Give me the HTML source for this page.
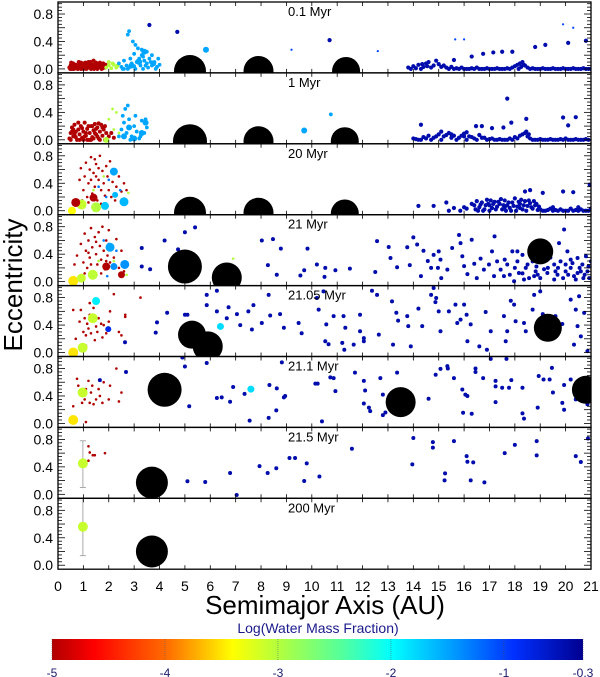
<!DOCTYPE html>
<html><head><meta charset="utf-8"><style>
html,body{margin:0;padding:0;background:#fff;}
svg{display:block;font-family:"Liberation Sans",sans-serif;}
</style></head><body>
<svg id="chart" width="600" height="677" viewBox="0 0 600 677" xmlns="http://www.w3.org/2000/svg">
<defs>
<linearGradient id="jet" x1="0" x2="1" y1="0" y2="0">
<stop offset="0" stop-color="#b00000"/><stop offset="0.08" stop-color="#ff0000"/>
<stop offset="0.22" stop-color="#ff7000"/><stop offset="0.34" stop-color="#ffff00"/>
<stop offset="0.43" stop-color="#b0ff40"/><stop offset="0.55" stop-color="#50ffa0"/>
<stop offset="0.64" stop-color="#00ffff"/><stop offset="0.75" stop-color="#00a0ff"/>
<stop offset="0.87" stop-color="#0030ff"/><stop offset="1" stop-color="#000090"/>
</linearGradient>
</defs>
<g id="panels"></g>
<text x="22" y="285" font-size="26" text-anchor="middle" transform="rotate(-90 22 285)">Eccentricity</text>
<g id="xticks"></g>
<text x="325" y="614" font-size="26" text-anchor="middle">Semimajor Axis (AU)</text>
<text x="318" y="633" font-size="14" fill="#1a1a8c" text-anchor="middle">Log(Water Mass Fraction)</text>
<rect x="52" y="639" width="531" height="21" fill="url(#jet)"/>
<g id="cbticks"></g>
</svg>
<script>
const xTicks=[0,1,2,3,4,5,6,7,8,9,10,11,12,13,14,15,16,17,18,19,20,21];
const yTickLabels=["0.0","0.4","0.8"];
const yTickVals=[0,0.4,0.8];
const cbTickVals=[-5,-4,-3,-2,-1,-0.3];
const cbTickLabels=["-5","-4","-3","-2","-1","-0.3"];
const panelTitles=["0.1 Myr","1 Myr","20 Myr","21 Myr","21.05 Myr","21.1 Myr","21.5 Myr","200 Myr"];

// giants: [a, e, radius]
const giants1=[[5.2,-0.03,16],[7.9,-0.03,15],[11.35,-0.03,14]];
const giants2=[[5.2,-0.02,17],[7.9,-0.02,15],[11.3,-0.02,14]];
const giants3=[[5.2,-0.03,16],[7.9,-0.03,15],[11.3,-0.04,14]];
const giants4=[[5.0,0.22,17],[6.65,0.06,15],[19.0,0.44,13]];
const giants5=[[5.28,0.26,14],[5.9,0.09,15],[19.3,0.36,14]];
const giants6=[[4.2,0.49,17],[13.5,0.31,15],[20.8,0.49,14]];
const giants7=[[3.7,0.17,16]];
const giants8=[[3.7,0.2,16]];
const giants=[giants1,giants2,giants3,giants4,giants5,giants6,giants7,giants8];

// point groups: [a, e]
const p1Red=[[0.45,.02],[0.5,.05],[0.55,.0],[0.6,.03],[0.65,.06],[0.7,.01],[0.75,.04],[0.8,.02],[0.85,.07],[0.9,.0],[0.95,.03],[1.0,.05],[1.05,.01],[1.1,.04],[1.15,.08],[1.2,.02],[1.25,.05],[1.3,.0],[1.35,.03],[1.4,.06],[1.45,.02],[1.5,.04],[1.55,.0],[1.6,.07],[1.65,.03],[1.7,.05],[1.75,.01],[1.8,.04],[1.85,.02],[0.6,.08],[0.9,.09],[1.2,.1],[1.5,.09],[1.0,.0],[0.7,.06],[1.3,.07],[1.65,.09],[0.52,.09],[1.78,.08],[1.4,.12],[0.48,.0],[0.62,.0],[0.78,.0],[0.98,.08],[1.12,.0],[1.28,.1],[1.42,.0],[1.58,.03],[1.72,.0],[1.88,.06],[0.82,.1],[1.08,.09]];
const p1Green=[[1.9,.02],[2.0,.05],[2.1,.01],[2.2,.06],[2.3,.02],[2.0,.1],[2.15,.08],[2.35,.05]];
const p1Blue=[[2.5,.03],[2.6,.0],[2.7,.05],[2.8,.02],[2.9,.08],[3.0,.04],[3.1,.1],[3.2,.15],[3.3,.2],[3.25,.05],[3.4,.12],[3.5,.08],[3.6,.15],[3.7,.05],[3.8,.1],[3.9,.03],[2.85,.15],[3.0,.22],[3.15,.3],[3.3,.28],[2.95,.4],[2.75,.5],[2.8,.55],[3.05,.35],[3.5,.25],[3.7,.2],[2.6,.12],[2.4,.08],[3.35,.0],[3.55,.02],[4.0,.06],[3.95,.15],[2.55,.0],[2.75,.0],[3.05,.0],[3.45,.05],[3.65,.1],[3.85,.0],[3.15,.12],[3.35,.18]];
const p1BlueBig=[[2.9,.05],[3.2,.1],[3.4,.25],[3.75,.08],[5.83,.28]];
const p1Outer=[[3.6,.64],[4.7,.54],[10.7,.42],[13.8,.02],[14.0,.04],[14.2,.06],[14.4,.03],[14.5,.08],[14.6,.1],[14.8,.05],[14.9,.12],[15.0,.07],[15.1,.03],[15.2,.05],[15.3,.02],[15.5,.03],[15.7,.01],[15.9,.02],[16.1,.0],[16.3,.01],[16.5,.02],[16.7,.0],[16.9,.01],[17.1,.0],[17.3,.01],[17.5,.0],[17.7,.01],[17.9,.02],[18.0,.04],[18.1,.06],[18.2,.08],[18.3,.1],[18.4,.05],[18.5,.02],[18.7,.01],[18.9,.0],[19.1,.01],[19.3,.0],[19.5,.01],[19.7,.0],[19.9,.01],[20.1,.0],[20.3,.01],[20.5,.0],[20.7,.01],[20.9,.0],[15.6,.13],[16.3,.18],[16.75,.22],[17.15,.24],[17.5,.25],[17.9,.25],[18.8,.32],[19.2,.35],[20.1,.38],[20.8,.41]];
const p1Belt2=[[13.9,.0],[14.1,.01],[14.3,.0],[14.7,.02],[14.55,.04],[14.35,.07],[15.4,.0],[15.6,.0],[15.8,.0],[16.0,.0],[16.2,.0],[16.4,.0],[16.6,.0],[16.8,.0],[17.0,.0],[17.2,.0],[17.4,.0],[17.6,.0],[17.8,.0],[18.15,.0],[18.25,.03],[18.35,.06],[18.6,.0],[18.8,.0],[19.0,.0],[19.2,.0],[19.4,.0],[19.6,.0],[19.8,.0],[20.0,.0],[20.2,.0],[20.4,.0],[20.6,.0],[20.8,.0],[21.0,.0]];
const p1Faint=[[9.2,.28],[12.6,.26],[19.9,.65],[20.3,.6],[15.65,.43],[16.0,.43]];

const p2Red=[[0.45,.02],[0.5,.1],[0.55,.18],[0.6,.05],[0.65,.22],[0.7,.12],[0.75,.0],[0.8,.15],[0.85,.08],[0.9,.2],[0.95,.03],[1.0,.12],[1.05,.25],[1.1,.06],[1.15,.16],[1.2,.0],[1.25,.1],[1.3,.2],[1.35,.04],[1.4,.14],[1.45,.23],[1.5,.08],[1.55,.18],[1.6,.02],[1.65,.12],[1.7,.22],[1.75,.06],[1.8,.15],[1.85,.0],[1.9,.1],[0.6,.15],[0.8,.25],[1.0,.0],[1.2,.2],[1.4,.02],[1.6,.24],[0.7,.04],[1.1,.1],[1.3,.0],[1.5,.16],[2.0,.05],[2.1,.1],[2.2,.03],[0.5,.0],[0.65,.08],[0.85,.0],[1.05,.05],[1.25,.0],[1.45,.1],[1.65,.0],[1.75,.18],[0.95,.17],[1.35,.2],[0.55,.12],[1.15,.0],[1.55,.05],[1.85,.2]];
const p2Green=[[2.2,.15],[2.0,.3],[2.3,.4],[2.15,.45],[2.4,.1]];
const p2GreenBig=[[1.9,.0]];
const p2Blue=[[2.4,.05],[2.5,.15],[2.6,.25],[2.7,.1],[2.8,.3],[2.9,.05],[3.0,.2],[3.1,.12],[3.2,.02],[3.3,.28],[3.4,.1],[3.5,.18],[2.55,.35],[2.75,.5],[2.65,.45],[3.05,.35],[3.45,.3],[2.85,.0],[3.25,.05],[10.75,.37]];
const p2BlueBig=[[2.6,.05],[3.0,.02],[3.3,.1],[2.8,.18],[3.45,.25],[9.7,.135]];
const p2Outer=[[14.0,.02],[14.2,.0],[14.4,.04],[14.6,.06],[14.8,.03],[15.0,.08],[15.2,.05],[15.4,.1],[15.6,.06],[15.8,.03],[16.0,.09],[16.2,.05],[16.4,.02],[16.6,.07],[16.8,.03],[17.0,.01],[17.2,.0],[17.4,.01],[17.6,.0],[17.8,.02],[18.0,.04],[18.2,.06],[18.4,.1],[18.5,.05],[18.6,.02],[18.8,.0],[19.0,.01],[19.2,.0],[19.4,.01],[19.6,.0],[19.8,.01],[20.0,.02],[20.2,.0],[20.4,.01],[20.6,.0],[20.8,.01],[15.1,.12],[16.1,.11],[14.3,.22],[16.47,.2],[16.7,.2],[17.1,.17],[17.55,.18],[17.86,.25],[18.45,.305],[19.9,.325],[20.4,.33],[20.1,.21],[17.7,.6]];
const p2Belt2=[[14.1,.01],[14.3,.0],[14.5,.02],[14.7,.0],[14.9,.05],[15.1,.0],[15.3,.07],[15.5,.03],[15.7,.0],[15.9,.06],[16.1,.0],[16.3,.04],[16.5,.0],[16.7,.03],[16.9,.0],[17.1,.02],[17.3,.0],[17.5,.0],[17.7,.0],[17.9,.0],[18.1,.02],[18.3,.08],[18.45,.12],[18.55,.08],[18.7,.0],[18.9,.0],[19.1,.0],[19.3,.0],[19.5,.0],[19.7,.0],[19.9,.0],[20.1,.0],[20.3,.0],[20.5,.0],[20.7,.0],[20.9,.0],[15.5,.08],[16.0,.05]];

const p3Red=[[0.85,.45],[0.9,.62],[1.0,.3],[1.05,.5],[1.1,.7],[1.15,.2],[1.2,.4],[1.25,.6],[1.3,.78],[1.35,.25],[1.4,.55],[1.45,.35],[1.5,.68],[1.55,.15],[1.6,.45],[1.65,.8],[1.7,.3],[1.75,.58],[1.8,.4],[1.85,.22],[1.9,.65],[1.95,.5],[2.0,.3],[2.05,.72],[2.1,.2],[2.15,.42],[2.2,.6],[2.3,.35],[2.4,.5],[2.5,.28],[2.6,.4],[2.7,.3],[1.2,.12],[1.5,.5],[1.7,.1],[1.3,.45],[1.6,.62],[2.25,.15],[0.95,.15],[1.45,.75]];
const p3Mixed=[[1.8,.5],[2.3,.55],[2.77,.26],[1.4,.3]];
const p3MixedBlue=[[2.0,.45],[1.6,.35],[2.45,.3],[1.9,.2]];
const p3Outer=[[14.2,.07],[14.8,.07],[15.3,.12],[15.4,.0],[15.85,.0],[16.1,.03],[16.4,.08],[16.5,.14],[16.6,.05],[16.7,.12],[16.8,.02],[16.9,.16],[17.0,.08],[17.1,.04],[17.2,.13],[17.3,.06],[17.4,.1],[17.5,.02],[17.6,.15],[17.7,.08],[17.8,.04],[17.9,.12],[18.0,.18],[18.1,.06],[18.2,.1],[18.3,.02],[18.4,.14],[18.5,.07],[18.6,.11],[18.7,.03],[18.8,.08],[18.9,.01],[16.55,.0],[17.05,.15],[17.65,.0],[18.25,.16],[16.95,.1],[17.45,.17],[18.05,.0],[18.75,.14],[19.0,.02],[19.2,.0],[19.4,.03],[19.6,.01],[19.8,.02],[20.0,.0],[20.2,.03],[20.4,.01],[20.6,.02],[20.8,.0],[21.0,.03],[18.4,.28],[18.6,.3],[19.1,.26],[19.9,.28],[20.3,.27],[20.95,.38],[16.0,.05],[15.6,.04],[19.5,.05],[20.5,.05]];
const p3Belt2=[[16.45,.02],[16.65,.09],[16.75,.0],[16.85,.08],[17.15,.1],[17.25,.02],[17.35,.13],[17.55,.08],[17.75,.12],[17.85,.0],[17.95,.07],[18.15,.13],[18.35,.08],[18.45,.0],[18.55,.15],[18.65,.05],[18.85,.1],[18.95,.06],[19.1,.0],[19.3,.01],[19.5,.0],[19.7,.0],[19.9,.0],[20.1,.0],[20.3,.0],[20.5,.0],[20.7,.0],[20.9,.0],[16.3,.1],[17.0,.0],[17.6,.05],[18.2,.04]];
// embryos: [a, e, logW, r]
const p3Emb=[[0.55,0.0,-3.4,4],[0.93,.09,-3.1,5],[0.7,.12,-5,4.5],[1.5,.05,-3.0,5],[1.85,.07,-1.7,4],[1.4,.19,-5,4],[2.2,.57,-1.5,4],[2.25,.23,-1.6,3],[2.6,.13,-1.6,4.5]];

const p4Red=[[0.75,.38],[0.9,.55],[1.0,.28],[1.05,.7],[1.1,.45],[1.15,.2],[1.2,.6],[1.25,.35],[1.3,.78],[1.35,.5],[1.4,.15],[1.45,.65],[1.5,.4],[1.55,.25],[1.6,.72],[1.65,.52],[1.7,.32],[1.75,.8],[1.8,.45],[1.85,.18],[1.9,.6],[1.95,.38],[2.0,.75],[2.05,.28],[2.1,.5],[2.2,.35],[2.3,.62],[2.4,.2],[2.5,.45],[1.3,.25],[1.5,.58],[1.7,.12],[1.2,.42],[1.9,.3],[2.6,.15],[0.65,.25],[1.05,.12]];
const p4Mixed=[[1.6,.3],[2.2,.3],[6.9,.335],[2.7,.1]];
const p4MixedBlue=[[2.0,.55],[1.8,.6],[2.3,.45],[1.94,.08]];
const p4Emb=[[0.6,.01,-3.5,5],[0.92,.05,-3.1,4.5],[1.37,.1,-3.05,5],[2.05,.5,-1.5,4.5],[2.2,.22,-1.4,3.5],[2.63,.25,-1.4,4.5],[1.9,.22,-5,4],[2.5,.1,-5,3.5]];
const p4Outer=[[3.3,.49],[3.3,.22],[3.63,.18],[4.2,.6],[4.73,.47],[5.0,.72],[5.4,.79],[8.03,.60],[8.47,.62],[8.78,.48],[8.27,.24],[8.62,.10],[9.55,.09],[9.7,.165],[9.83,.48],[10.2,.25],[10.53,.2],[10.5,.07],[10.93,.165],[11.5,.19],[12.57,.59],[12.5,.14],[13.03,.505],[13.1,.345],[13.36,.21],[13.76,.5],[13.86,.24],[14.0,.645],[14.15,.54],[14.4,.45],[14.57,.30],[14.7,.2],[14.3,.08],[14.8,.39],[15.0,.44],[15.07,.32],[14.97,.2],[15.1,.05],[15.34,.175],[15.53,.49],[15.8,.68],[15.86,.56],[15.93,.37],[16.0,.225],[16.13,.11],[16.3,.61],[16.4,.26],[16.5,.05],[16.65,.335],[16.78,.175],[16.98,.25],[17.1,.44],[17.2,.66],[17.3,.295],[17.44,.175],[17.57,.08],[17.7,.25],[17.9,.44],[18.1,.295],[18.16,.125],[18.3,.39],[18.43,.2],[18.56,.05],[18.7,.295],[18.82,.15],[19.55,.25],[19.74,.56],[19.94,.76],[20.07,.44],[20.2,.2],[20.33,.08],[20.47,.345],[20.66,.25],[20.86,.15],[21.0,.295],[20.93,.05],[19.28,.125],[19.0,.05],[19.68,.1],[20.0,.15],[20.47,.125],[20.7,.05],[19.55,.03],[17.97,.005],[18.36,.03],[18.76,.08],[20.27,.27],[20.8,.37],[19.8,.295],[18.1,.44],[18.6,.49],[17.18,.08],[19.3,.2],[19.6,.15],[20.1,.1],[20.55,.2],[20.9,.22],[19.9,.05],[20.4,.03],[18.9,.1],[18.3,.12],[17.8,.1],[18.0,.2],[18.5,.25],[19.4,.35],[20.2,.32],[20.75,.1],[19.15,.18],[17.6,.32],[18.85,.22],[20.6,.15],[20.0,.25],[19.7,.2]];

const p5Red=[[0.7,.2],[0.85,.45],[0.9,.62],[1.0,.3],[1.05,.5],[1.1,.25],[1.15,.42],[1.2,.35],[1.25,.55],[1.3,.28],[1.35,.45],[1.4,.65],[1.45,.18],[1.5,.38],[1.55,.3],[1.6,.5],[1.7,.42],[1.75,.22],[1.8,.4],[1.9,.28],[2.0,.45],[2.05,.6],[2.2,.85],[2.4,.3],[2.5,.25],[2.65,.55],[3.25,.8],[1.25,.72],[0.6,.62],[1.1,.1],[2.65,.52]];
const p5Emb=[[0.6,0.0,-3.5,5],[0.97,.07,-3.1,5],[1.37,.5,-3.1,5],[1.5,.75,-1.9,4],[1.98,.34,-0.8,3],[6.4,.38,-1.8,3.5]];
const p5Outer=[[2.64,.15],[3.9,.44],[3.85,.29],[4.3,.58],[5.0,.55],[5.1,.55],[5.86,.84],[6.26,.9],[5.86,.69],[6.26,.6],[6.72,.66],[6.65,.50],[7.05,.56],[7.18,.40],[7.5,.6],[7.64,.335],[7.7,.69],[8.03,.43],[8.3,.84],[8.36,.54],[8.75,.56],[8.9,.36],[9.48,.43],[9.6,.28],[10.2,.795],[10.27,.625],[10.46,.89],[10.57,.41],[10.53,.165],[10.66,.12],[10.86,.53],[11.2,.14],[11.25,.53],[11.28,.04],[11.32,.36],[11.65,.115],[11.9,.31],[11.9,.55],[12.05,.21],[12.05,.165],[12.37,.90],[12.57,.84],[12.64,.26],[13.16,.745],[13.2,.115],[13.33,.58],[13.4,.465],[13.76,.53],[13.8,.385],[13.9,.09],[14.2,.64],[14.35,.385],[14.7,.84],[14.8,.94],[14.87,.735],[14.9,.795],[15.0,.6],[15.07,.31],[15.4,.6],[15.66,.698],[15.73,.43],[16.0,.698],[15.86,.48],[16.1,.55],[16.13,.165],[16.26,.41],[16.6,.09],[16.85,.59],[16.9,.04],[17.05,.31],[17.57,.53],[17.64,.165],[17.7,.31],[17.84,.755],[17.97,.698],[18.03,.455],[18.36,.43],[18.43,.31],[18.7,.625],[18.76,.84],[19.0,.89],[19.1,.56],[19.6,.53],[19.87,.415],[20.2,.77],[20.33,.115],[20.4,.625],[20.47,.385],[20.53,.82],[20.6,.235],[20.73,.577],[20.86,.02]];

const p6Red=[[0.6,.25],[0.75,.65],[0.8,.55],[0.95,.3],[1.05,.35],[1.1,.5],[1.2,.62],[1.25,.3],[1.3,.45],[1.35,.55],[1.4,.28],[1.5,.35],[1.6,.5],[1.65,.4],[1.75,.3],[1.8,.6],[2.0,.35],[2.05,.55],[2.3,.8],[2.5,.45],[1.1,.02],[2.4,.32]];
const p6Emb=[[0.6,.05,-3.5,5],[0.97,.45,-3.1,5],[7.6,.5,-1.8,3.5]];
const p6Outer=[[4.9,.96],[5.0,.83],[2.68,.75],[1.65,.63],[5.17,.25],[5.86,.88],[6.26,.37],[6.45,.38],[6.78,.315],[6.9,.53],[7.35,.43],[7.55,.04],[8.3,.08],[8.33,.56],[8.62,.51],[8.9,.38],[8.95,.40],[8.6,.19],[8.82,.89],[10.14,.58],[10.23,.58],[10.4,.03],[10.73,.67],[10.86,.66],[10.93,.47],[11.7,.74],[12.05,.62],[12.1,.48],[12.05,.29],[12.25,.23],[12.3,.18],[12.7,.66],[12.8,.12],[12.9,.16],[12.8,.42],[13.36,.74],[13.86,.18],[14.6,.36],[14.88,.71],[15.07,.795],[15.34,.835],[15.36,.80],[15.6,.66],[15.93,.495],[16.05,.42],[16.13,.40],[15.96,.155],[16.3,.14],[16.45,.80],[16.45,.75],[16.75,.66],[17.05,.94],[17.24,.62],[17.24,.54],[17.24,.31],[17.5,.52],[17.67,.94],[17.77,.52],[17.86,.63],[18.3,.52],[18.3,.146],[18.36,.07],[18.9,.23],[18.94,.69],[19.13,.64],[19.37,.64],[19.46,.81],[19.5,.45],[19.94,.56],[19.87,.30],[19.94,.20],[20.2,.64],[20.4,.35],[20.6,.47],[20.86,.28]];

const p7Red=[[1.2,.7],[1.25,.61],[1.37,.57],[1.45,.57],[1.2,.49],[1.85,.6]];
const p7Emb=[[0.98,0.45,-3.1,5]];
const p7Err=[[0.98,0.1,0.78]];
const p7Outer=[[5.1,.19],[5.8,.18],[6.78,.31],[7.04,-.01],[7.94,.41],[8.26,.31],[8.6,.38],[9.12,.53],[9.34,.53],[9.8,.45],[9.7,.194],[10.3,.26],[11.58,.664],[13.96,.436],[14.0,.82],[14.77,.76],[14.77,.68],[15.25,.305],[15.23,.203],[15.6,.775],[16.1,.557],[16.13,.475],[16.36,.465],[16.26,.203],[16.8,.174],[17.6,.60],[18.0,.72],[18.86,.775],[18.86,.567],[20.4,.557],[20.6,.47],[20.88,.814]];

const p8Emb=[[0.98,0.56,-3.1,5]];
const p8Err=[[0.98,0.14,1.0]];

// series spec: [panelIndex, points, logW, radius]
const series=[
 [0,p1Red,-5,2.1],[0,p1Green,-3,1.9],[0,p1Blue,-1.5,1.9],[0,p1BlueBig,-1.5,3],[0,p1Outer,-0.45,2.1],[0,p1Belt2,-0.45,2.1],[0,p1Faint,-1,1.1],
 [1,p2Red,-5,2],[1,p2Green,-3,1.4],[1,p2GreenBig,-3,3],[1,p2Blue,-1.5,1.9],[1,p2BlueBig,-1.5,3],[1,p2Outer,-0.45,2.1],[1,p2Belt2,-0.45,2.1],
 [2,p3Red,-5,1.3],[2,p3Mixed,-3,1.3],[2,p3MixedBlue,-1.3,1.3],[2,p3Outer,-0.45,2.1],[2,p3Belt2,-0.45,2.1],
 [3,p4Red,-5,1.3],[3,p4Mixed,-3,1.3],[3,p4MixedBlue,-1.3,1.3],[3,p4Outer,-0.45,2],
 [4,p5Red,-5,1.3],[4,p5Outer,-0.45,2],
 [5,p6Red,-5,1.3],[5,p6Outer,-0.45,2],
 [6,p7Red,-5,1.3],[6,p7Outer,-0.45,2]
];
const embryoSets=[[2,p3Emb],[3,p4Emb],[4,p5Emb],[5,p6Emb],[6,p7Emb],[7,p8Emb]];
const errSets=[[6,p7Err],[7,p8Err]];

const NS="http://www.w3.org/2000/svg";
const PL=58,PR=591,PT=2,PH=70.9,EMIN=-0.058,EMAX=0.975,AMAX=21;
function xs(a){return PL+a*(PR-PL)/AMAX;}
function ys(p,e){const top=PT+p*PH;return top+PH-(e-EMIN)/(EMAX-EMIN)*PH;}
const stops=[[-5,[176,0,0]],[-4.62,[255,0,0]],[-3.97,[255,112,0]],[-3.4,[255,255,0]],[-2.98,[176,255,64]],[-2.41,[80,255,160]],[-1.99,[0,255,255]],[-1.47,[0,160,255]],[-0.91,[0,48,255]],[-0.3,[0,0,144]]];
function col(w){
 if(w<=stops[0][0])return "rgb("+stops[0][1]+")";
 for(let i=1;i<stops.length;i++){if(w<=stops[i][0]){const t=(w-stops[i-1][0])/(stops[i][0]-stops[i-1][0]);const c=stops[i-1][1].map((v,k)=>Math.round(v+(stops[i][1][k]-v)*t));return "rgb("+c+")";}}
 return "rgb("+stops[stops.length-1][1]+")";
}
function mk(tag,attrs,parent){const el=document.createElementNS(NS,tag);for(const k in attrs)el.setAttribute(k,attrs[k]);parent.appendChild(el);return el;}
const root=document.getElementById("panels");
const groups=[];
for(let p=0;p<8;p++){
 const top=PT+p*PH;
 const g=mk("g",{},root);
 
 
 const cp=mk("clipPath",{id:"cp"+p},g);
 mk("rect",{x:PL,y:top,width:PR-PL,height:PH},cp);
 const dg=mk("g",{"clip-path":"url(#cp"+p+")"},g);
 groups.push(dg);
 const frame=mk("rect",{x:PL,y:top,width:PR-PL,height:PH,fill:"none",stroke:"#000","stroke-width":1.3},g);
 
 
 for(let e=0;e<=0.951;e+=0.05){
  const y=ys(p,e);const major=Math.abs(e/0.2-Math.round(e/0.2))<0.01;const L=major?7:4;
  mk("line",{x1:PL,x2:PL+L,y1:y,y2:y,stroke:"#000","stroke-width":0.8},g);
  mk("line",{x1:PR,x2:PR-L,y1:y,y2:y,stroke:"#000","stroke-width":0.8},g);
 }
 for(const a of xTicks){const x=xs(a);
  mk("line",{x1:x,x2:x,y1:top,y2:top+4,stroke:"#000","stroke-width":0.8},g);
  mk("line",{x1:x,x2:x,y1:top+PH,y2:top+PH-4,stroke:"#000","stroke-width":0.8},g);}
 yTickVals.forEach((v,i)=>{const t=mk("text",{x:53,y:ys(p,v)+5,"font-size":14,"text-anchor":"end"},g);t.textContent=yTickLabels[i];
  
  });
 const tt=mk("text",{x:288,y:top+14,"font-size":13},g);tt.textContent=panelTitles[p];
 
 
}
errSets.forEach(([p,arr])=>arr.forEach(([a,lo,hi])=>{const x=xs(a);
 const l=mk("line",{x1:x,x2:x,y1:ys(p,lo),y2:ys(p,hi),stroke:"#aaa","stroke-width":1},groups[p]);
 
 
 mk("line",{x1:x-3,x2:x+3,y1:ys(p,lo),y2:ys(p,lo),stroke:"#aaa","stroke-width":1},groups[p]);
 mk("line",{x1:x-3,x2:x+3,y1:ys(p,hi),y2:ys(p,hi),stroke:"#aaa","stroke-width":1},groups[p]);}));
series.forEach(([p,arr,w,r])=>{const c=col(w);arr.forEach(([a,e])=>{
 const d=mk("circle",{cx:xs(a),cy:ys(p,e),r:r,fill:c},groups[p]);
 
 });});
embryoSets.forEach(([p,arr])=>arr.forEach(([a,e,w,r])=>{
 const d=mk("circle",{cx:xs(a),cy:ys(p,e),r:r,fill:col(w)},groups[p]);
 
 }));
giants.forEach((arr,p)=>arr.forEach(([a,e,r])=>{
 const d=mk("circle",{cx:xs(a),cy:ys(p,e),r:r,fill:"#000"},groups[p]);
 
 }));
const xt=document.getElementById("xticks");
xTicks.forEach(a=>{const t=mk("text",{x:xs(a),y:591,"font-size":14,"text-anchor":"middle"},xt);t.textContent=a;
 
 });
const cb=document.getElementById("cbticks");
function cbx(v){return 52+(v+5)*531/4.7;}
cbTickVals.forEach((v,i)=>{const x=cbx(v);
 mk("line",{x1:x,x2:x,y1:639,y2:660,stroke:"#555","stroke-width":0.5,"stroke-dasharray":"1,1"},cb);
 const t=mk("text",{x:x,y:677,"font-size":12,fill:"#1a1a6c","text-anchor":"middle"},cb);t.textContent=cbTickLabels[i];
 
 });
</script>
</body></html>
